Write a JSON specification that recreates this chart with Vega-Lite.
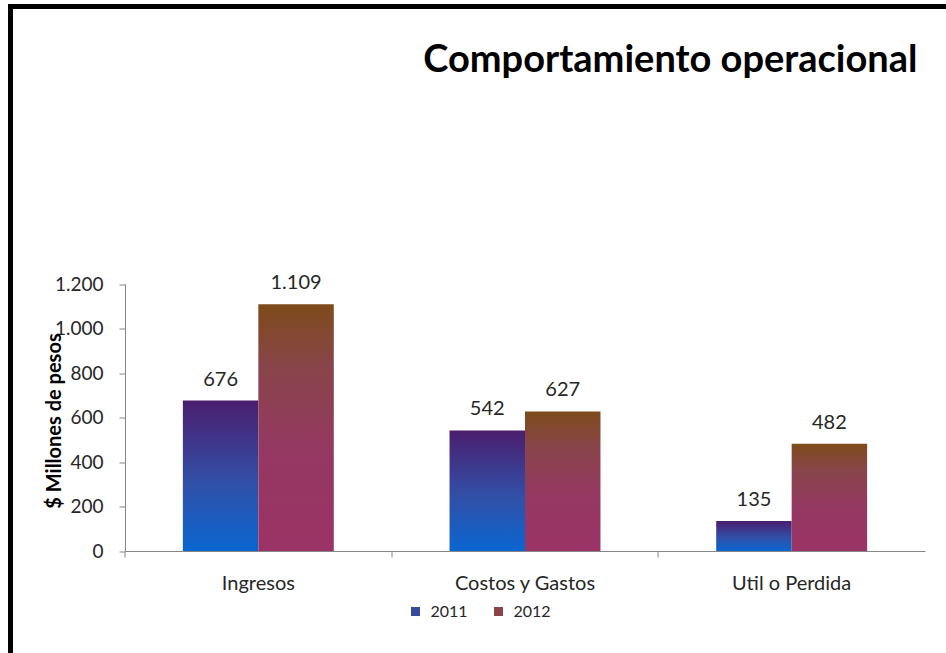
{
  "$schema": "https://vega.github.io/schema/vega-lite/v6.json",
  "width": 960,
  "height": 660,
  "padding": {"left": 10.5, "top": 6.5, "right": 0, "bottom": 0},
  "background": "white",
  "title": {
    "text": "Comportamiento operacional",
    "font": "Lato",
    "fontSize": 38,
    "fontWeight": "bold",
    "color": "black",
    "anchor": "end",
    "frame": "group",
    "orient": "top",
    "baseline": "alphabetic",
    "offset": -103,
    "dx": -53
  },
  "data": {
    "values": [
      {"categoria": "Ingresos", "anio": "2011", "valor": 676},
      {"categoria": "Ingresos", "anio": "2012", "valor": 1109},
      {"categoria": "Costos y Gastos", "anio": "2011", "valor": 542},
      {"categoria": "Costos y Gastos", "anio": "2012", "valor": 627},
      {"categoria": "Util o Perdida", "anio": "2011", "valor": 135},
      {"categoria": "Util o Perdida", "anio": "2012", "valor": 482}
    ]
  },
  "encoding": {
    "x": {
      "field": "categoria",
      "type": "nominal",
      "sort": null,
      "scale": {"range": [114.5, 914.5], "paddingInner": 0.434, "paddingOuter": 0.217},
      "axis": {
        "title": null,
        "labelAngle": 0,
        "offset": -115.5,
        "bandPosition": -0.3834,
        "labelFont": "Lato",
        "labelFontSize": 20,
        "labelColor": "#262626",
        "labelPadding": 16,
        "tickSize": 6,
        "tickColor": "#868686",
        "domainColor": "#868686"
      }
    },
    "xOffset": {"field": "anio", "type": "nominal", "scale": {"padding": 0}},
    "y": {
      "field": "valor",
      "type": "quantitative",
      "scale": {"domain": [0, 1200], "nice": false, "range": [544.5, 277.5]},
      "axis": {
        "title": "$ Millones de pesos",
        "values": [0, 200, 400, 600, 800, 1000, 1200],
        "format": ",d",
        "offset": -114.5,
        "labelFont": "Lato",
        "labelFontSize": 19,
        "labelColor": "#262626",
        "labelPadding": 16,
        "tickSize": 6,
        "tickColor": "#868686",
        "domainColor": "#868686",
        "titleFont": "Lato",
        "titleFontSize": 20,
        "titleFontWeight": "bold",
        "titleColor": "black",
        "titleX": -65,
        "titleY": 414,
        "titleBaseline": "alphabetic"
      }
    }
  },
  "layer": [
    {
      "mark": {"type": "bar"},
      "encoding": {
        "fill": {
          "field": "anio",
          "type": "nominal",
          "scale": {"domain": ["2011", "2012"], "range": ["#3a4a9e", "#8b4448"]},
          "legend": {
            "title": null,
            "orient": "none",
            "legendX": 397,
            "legendY": 597,
            "direction": "horizontal",
            "symbolType": "square",
            "symbolSize": 81,
            "symbolStrokeWidth": 0,
            "labelFont": "Lato",
            "labelFontSize": 16,
            "labelColor": "#262626",
            "labelOffset": 7,
            "columnPadding": 22,
            "padding": 0
          },
          "condition": [
            {
              "test": "datum.anio === '2011'",
              "value": {
                "gradient": "linear",
                "x1": 0, "y1": 1, "x2": 0, "y2": 0,
                "stops": [
                  {"offset": 0, "color": "#0a66d0"},
                  {"offset": 0.45, "color": "#3150a8"},
                  {"offset": 1, "color": "#4b1e6e"}
                ]
              }
            },
            {
              "test": "datum.anio === '2012'",
              "value": {
                "gradient": "linear",
                "x1": 0, "y1": 1, "x2": 0, "y2": 0,
                "stops": [
                  {"offset": 0, "color": "#9b3366"},
                  {"offset": 0.4, "color": "#953862"},
                  {"offset": 0.75, "color": "#88454a"},
                  {"offset": 1, "color": "#7d4b1a"}
                ]
              }
            }
          ]
        }
      }
    },
    {
      "mark": {"type": "text", "font": "Lato", "fontSize": 20, "color": "#262626", "baseline": "alphabetic", "dy": -15},
      "encoding": {
        "text": {"field": "valor", "type": "quantitative", "format": ",d"}
      }
    }
  ],
  "config": {
    "locale": {"number": {"decimal": ",", "thousands": ".", "grouping": [3], "currency": ["$", ""]}},
    "view": {"stroke": "black", "strokeWidth": 5},
    "axis": {"grid": false}
  }
}
